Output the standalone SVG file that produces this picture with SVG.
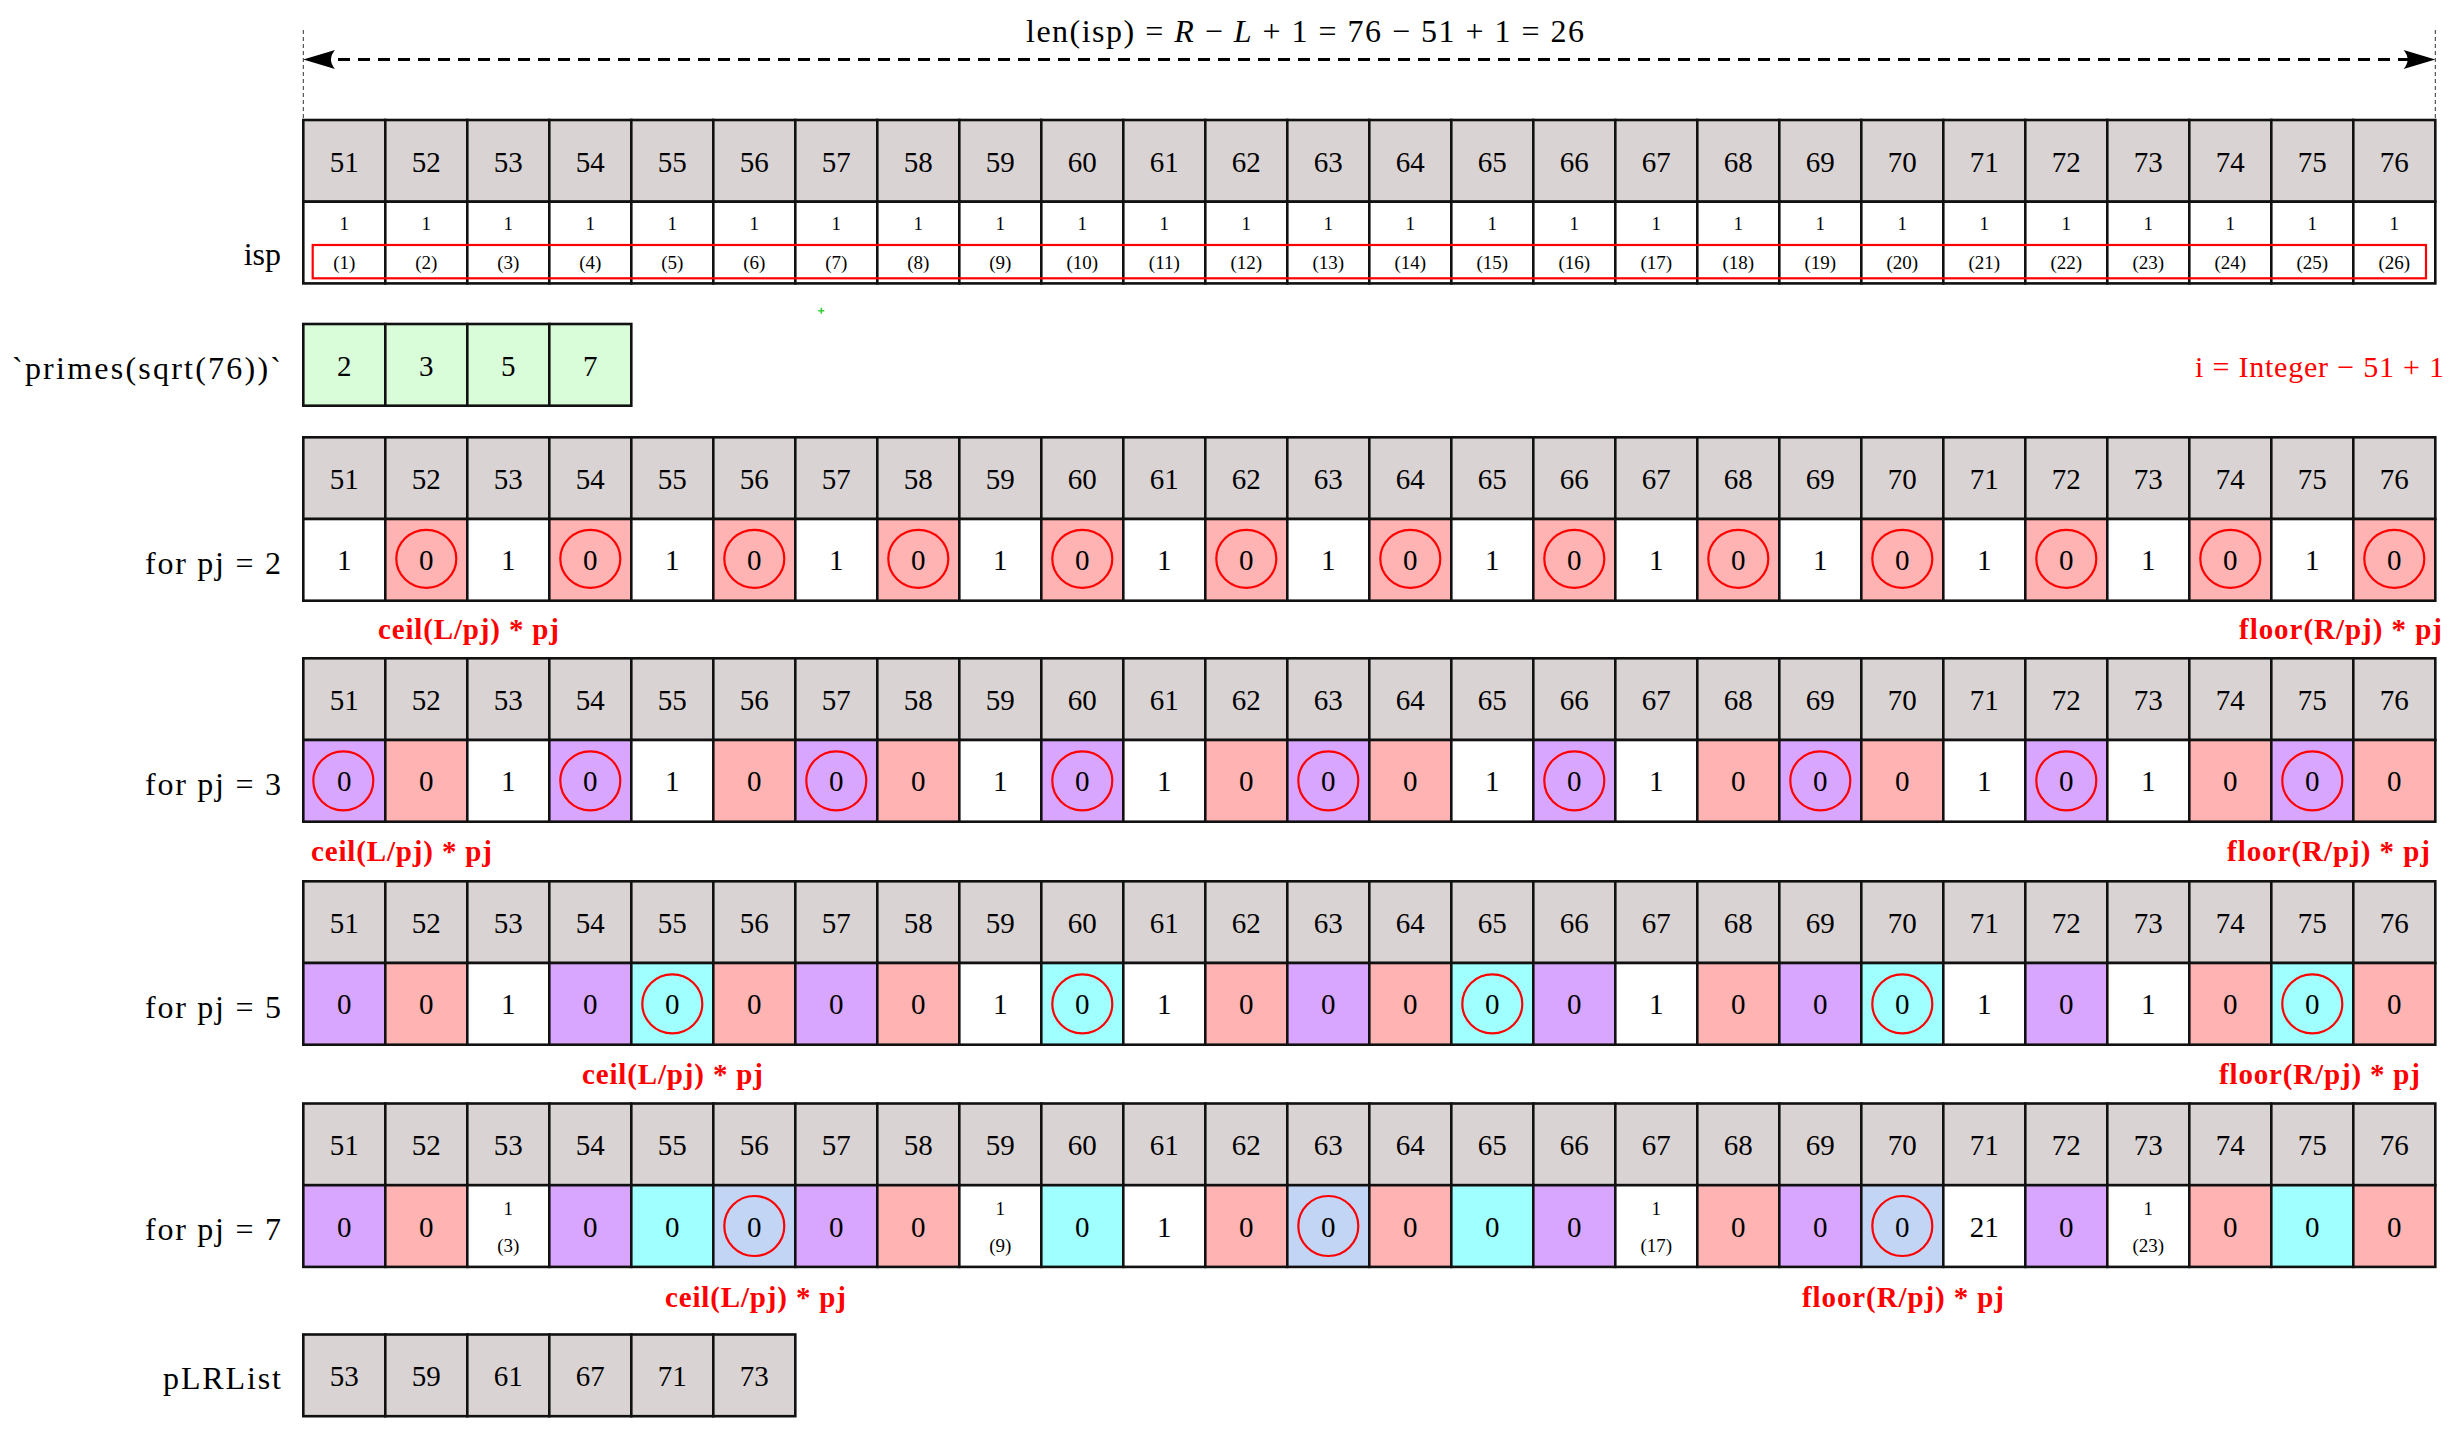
<svg xmlns="http://www.w3.org/2000/svg" width="2448" height="1431" viewBox="0 0 2448 1431">
<style>
.t rect{stroke:#111;stroke-width:2.6}
.hd{fill:#d9d3d3}.w{fill:#fff}.pk{fill:#ffb3b3}.pu{fill:#d9a6ff}.cy{fill:#a0ffff}.lb{fill:#c2d5f5}.gr{fill:#d9fcd9}
text{font-family:"Liberation Serif","Times New Roman",serif;fill:#000}
.n{font-size:29px;text-anchor:middle}
.s{font-size:19px;text-anchor:middle}
.ring{fill:none;stroke:#f00;stroke-width:2.2}
.lbl{font-size:32px;text-anchor:end}
.rb{font-size:29px;font-weight:bold;fill:#f00}
.rt{font-size:30px;fill:#f00}
</style>
<rect width="2448" height="1431" fill="#fff"/>

<g id="connectors">
<line x1="303.3" y1="30" x2="303.3" y2="120" stroke="#333" stroke-width="1" stroke-dasharray="4 3"/>
<line x1="2435.3" y1="30" x2="2435.3" y2="120" stroke="#333" stroke-width="1" stroke-dasharray="4 3"/>
<line x1="318" y1="59.5" x2="2420" y2="59.5" stroke="#000" stroke-width="3" stroke-dasharray="12 8"/>
<path d="M303.3,59.5 L335,50 Q327,59.5 335,69 Z" fill="#000"/>
<path d="M2435.3,59.5 L2403.6,50 Q2411.6,59.5 2403.6,69 Z" fill="#000"/>
</g>

<g id="title">
<text x="1305" y="42" text-anchor="middle" font-size="32" textLength="558" lengthAdjust="spacing">len(isp) = <tspan font-style="italic">R</tspan> − <tspan font-style="italic">L</tspan> + 1 = 76 − 51 + 1 = 26</text>
</g>

<g id="isp">
<text class="lbl" x="281" y="265">isp</text>
<g class="t" transform="translate(303.3,120)">
<rect x="0" y="0" width="82" height="81.7" class="hd"/><rect x="82" y="0" width="82" height="81.7" class="hd"/><rect x="164" y="0" width="82" height="81.7" class="hd"/><rect x="246" y="0" width="82" height="81.7" class="hd"/><rect x="328" y="0" width="82" height="81.7" class="hd"/><rect x="410" y="0" width="82" height="81.7" class="hd"/><rect x="492" y="0" width="82" height="81.7" class="hd"/><rect x="574" y="0" width="82" height="81.7" class="hd"/><rect x="656" y="0" width="82" height="81.7" class="hd"/><rect x="738" y="0" width="82" height="81.7" class="hd"/><rect x="820" y="0" width="82" height="81.7" class="hd"/><rect x="902" y="0" width="82" height="81.7" class="hd"/><rect x="984" y="0" width="82" height="81.7" class="hd"/><rect x="1066" y="0" width="82" height="81.7" class="hd"/><rect x="1148" y="0" width="82" height="81.7" class="hd"/><rect x="1230" y="0" width="82" height="81.7" class="hd"/><rect x="1312" y="0" width="82" height="81.7" class="hd"/><rect x="1394" y="0" width="82" height="81.7" class="hd"/><rect x="1476" y="0" width="82" height="81.7" class="hd"/><rect x="1558" y="0" width="82" height="81.7" class="hd"/><rect x="1640" y="0" width="82" height="81.7" class="hd"/><rect x="1722" y="0" width="82" height="81.7" class="hd"/><rect x="1804" y="0" width="82" height="81.7" class="hd"/><rect x="1886" y="0" width="82" height="81.7" class="hd"/><rect x="1968" y="0" width="82" height="81.7" class="hd"/><rect x="2050" y="0" width="82" height="81.7" class="hd"/>
<rect x="0" y="81.7" width="82" height="81.7" class="w"/><rect x="82" y="81.7" width="82" height="81.7" class="w"/><rect x="164" y="81.7" width="82" height="81.7" class="w"/><rect x="246" y="81.7" width="82" height="81.7" class="w"/><rect x="328" y="81.7" width="82" height="81.7" class="w"/><rect x="410" y="81.7" width="82" height="81.7" class="w"/><rect x="492" y="81.7" width="82" height="81.7" class="w"/><rect x="574" y="81.7" width="82" height="81.7" class="w"/><rect x="656" y="81.7" width="82" height="81.7" class="w"/><rect x="738" y="81.7" width="82" height="81.7" class="w"/><rect x="820" y="81.7" width="82" height="81.7" class="w"/><rect x="902" y="81.7" width="82" height="81.7" class="w"/><rect x="984" y="81.7" width="82" height="81.7" class="w"/><rect x="1066" y="81.7" width="82" height="81.7" class="w"/><rect x="1148" y="81.7" width="82" height="81.7" class="w"/><rect x="1230" y="81.7" width="82" height="81.7" class="w"/><rect x="1312" y="81.7" width="82" height="81.7" class="w"/><rect x="1394" y="81.7" width="82" height="81.7" class="w"/><rect x="1476" y="81.7" width="82" height="81.7" class="w"/><rect x="1558" y="81.7" width="82" height="81.7" class="w"/><rect x="1640" y="81.7" width="82" height="81.7" class="w"/><rect x="1722" y="81.7" width="82" height="81.7" class="w"/><rect x="1804" y="81.7" width="82" height="81.7" class="w"/><rect x="1886" y="81.7" width="82" height="81.7" class="w"/><rect x="1968" y="81.7" width="82" height="81.7" class="w"/><rect x="2050" y="81.7" width="82" height="81.7" class="w"/>
<text class="n" x="41" y="51.5">51</text><text class="n" x="123" y="51.5">52</text><text class="n" x="205" y="51.5">53</text><text class="n" x="287" y="51.5">54</text><text class="n" x="369" y="51.5">55</text><text class="n" x="451" y="51.5">56</text><text class="n" x="533" y="51.5">57</text><text class="n" x="615" y="51.5">58</text><text class="n" x="697" y="51.5">59</text><text class="n" x="779" y="51.5">60</text><text class="n" x="861" y="51.5">61</text><text class="n" x="943" y="51.5">62</text><text class="n" x="1025" y="51.5">63</text><text class="n" x="1107" y="51.5">64</text><text class="n" x="1189" y="51.5">65</text><text class="n" x="1271" y="51.5">66</text><text class="n" x="1353" y="51.5">67</text><text class="n" x="1435" y="51.5">68</text><text class="n" x="1517" y="51.5">69</text><text class="n" x="1599" y="51.5">70</text><text class="n" x="1681" y="51.5">71</text><text class="n" x="1763" y="51.5">72</text><text class="n" x="1845" y="51.5">73</text><text class="n" x="1927" y="51.5">74</text><text class="n" x="2009" y="51.5">75</text><text class="n" x="2091" y="51.5">76</text>
<text class="s" x="41" y="110">1</text><text class="s" x="123" y="110">1</text><text class="s" x="205" y="110">1</text><text class="s" x="287" y="110">1</text><text class="s" x="369" y="110">1</text><text class="s" x="451" y="110">1</text><text class="s" x="533" y="110">1</text><text class="s" x="615" y="110">1</text><text class="s" x="697" y="110">1</text><text class="s" x="779" y="110">1</text><text class="s" x="861" y="110">1</text><text class="s" x="943" y="110">1</text><text class="s" x="1025" y="110">1</text><text class="s" x="1107" y="110">1</text><text class="s" x="1189" y="110">1</text><text class="s" x="1271" y="110">1</text><text class="s" x="1353" y="110">1</text><text class="s" x="1435" y="110">1</text><text class="s" x="1517" y="110">1</text><text class="s" x="1599" y="110">1</text><text class="s" x="1681" y="110">1</text><text class="s" x="1763" y="110">1</text><text class="s" x="1845" y="110">1</text><text class="s" x="1927" y="110">1</text><text class="s" x="2009" y="110">1</text><text class="s" x="2091" y="110">1</text>
<text class="s" x="41" y="149">(1)</text><text class="s" x="123" y="149">(2)</text><text class="s" x="205" y="149">(3)</text><text class="s" x="287" y="149">(4)</text><text class="s" x="369" y="149">(5)</text><text class="s" x="451" y="149">(6)</text><text class="s" x="533" y="149">(7)</text><text class="s" x="615" y="149">(8)</text><text class="s" x="697" y="149">(9)</text><text class="s" x="779" y="149">(10)</text><text class="s" x="861" y="149">(11)</text><text class="s" x="943" y="149">(12)</text><text class="s" x="1025" y="149">(13)</text><text class="s" x="1107" y="149">(14)</text><text class="s" x="1189" y="149">(15)</text><text class="s" x="1271" y="149">(16)</text><text class="s" x="1353" y="149">(17)</text><text class="s" x="1435" y="149">(18)</text><text class="s" x="1517" y="149">(19)</text><text class="s" x="1599" y="149">(20)</text><text class="s" x="1681" y="149">(21)</text><text class="s" x="1763" y="149">(22)</text><text class="s" x="1845" y="149">(23)</text><text class="s" x="1927" y="149">(24)</text><text class="s" x="2009" y="149">(25)</text><text class="s" x="2091" y="149">(26)</text>
<rect x="9.4" y="125" width="2113.3" height="33.3" fill="none" style="stroke:#f00;stroke-width:2.2"/>
</g>
</g>

<g id="index-note">
<text class="rt" x="2195" y="377" textLength="249" lengthAdjust="spacing">i = Integer − 51 + 1</text>
</g>

<g id="dot">
<path d="M818.3,310.7 H824.3 M821.3,307.7 V313.7" stroke="#33cc33" stroke-width="1.5"/>
</g>

<g id="primes">
<text class="lbl" x="281" y="379" textLength="269" lengthAdjust="spacing">`primes(sqrt(76))`</text>
<g class="t" transform="translate(303.3,324)">
<rect x="0" y="0" width="82" height="81.7" class="gr"/><rect x="82" y="0" width="82" height="81.7" class="gr"/><rect x="164" y="0" width="82" height="81.7" class="gr"/><rect x="246" y="0" width="82" height="81.7" class="gr"/>
<text class="n" x="41" y="51.5">2</text><text class="n" x="123" y="51.5">3</text><text class="n" x="205" y="51.5">5</text><text class="n" x="287" y="51.5">7</text>
</g>
</g>

<g id="pj2">
<text class="lbl" x="281" y="574" textLength="136" lengthAdjust="spacing">for pj = 2</text>
<g class="t" transform="translate(303.3,437.3)">
<rect x="0" y="0" width="82" height="81.7" class="hd"/><rect x="82" y="0" width="82" height="81.7" class="hd"/><rect x="164" y="0" width="82" height="81.7" class="hd"/><rect x="246" y="0" width="82" height="81.7" class="hd"/><rect x="328" y="0" width="82" height="81.7" class="hd"/><rect x="410" y="0" width="82" height="81.7" class="hd"/><rect x="492" y="0" width="82" height="81.7" class="hd"/><rect x="574" y="0" width="82" height="81.7" class="hd"/><rect x="656" y="0" width="82" height="81.7" class="hd"/><rect x="738" y="0" width="82" height="81.7" class="hd"/><rect x="820" y="0" width="82" height="81.7" class="hd"/><rect x="902" y="0" width="82" height="81.7" class="hd"/><rect x="984" y="0" width="82" height="81.7" class="hd"/><rect x="1066" y="0" width="82" height="81.7" class="hd"/><rect x="1148" y="0" width="82" height="81.7" class="hd"/><rect x="1230" y="0" width="82" height="81.7" class="hd"/><rect x="1312" y="0" width="82" height="81.7" class="hd"/><rect x="1394" y="0" width="82" height="81.7" class="hd"/><rect x="1476" y="0" width="82" height="81.7" class="hd"/><rect x="1558" y="0" width="82" height="81.7" class="hd"/><rect x="1640" y="0" width="82" height="81.7" class="hd"/><rect x="1722" y="0" width="82" height="81.7" class="hd"/><rect x="1804" y="0" width="82" height="81.7" class="hd"/><rect x="1886" y="0" width="82" height="81.7" class="hd"/><rect x="1968" y="0" width="82" height="81.7" class="hd"/><rect x="2050" y="0" width="82" height="81.7" class="hd"/>
<rect x="0" y="81.7" width="82" height="81.7" class="w"/><rect x="82" y="81.7" width="82" height="81.7" class="pk"/><rect x="164" y="81.7" width="82" height="81.7" class="w"/><rect x="246" y="81.7" width="82" height="81.7" class="pk"/><rect x="328" y="81.7" width="82" height="81.7" class="w"/><rect x="410" y="81.7" width="82" height="81.7" class="pk"/><rect x="492" y="81.7" width="82" height="81.7" class="w"/><rect x="574" y="81.7" width="82" height="81.7" class="pk"/><rect x="656" y="81.7" width="82" height="81.7" class="w"/><rect x="738" y="81.7" width="82" height="81.7" class="pk"/><rect x="820" y="81.7" width="82" height="81.7" class="w"/><rect x="902" y="81.7" width="82" height="81.7" class="pk"/><rect x="984" y="81.7" width="82" height="81.7" class="w"/><rect x="1066" y="81.7" width="82" height="81.7" class="pk"/><rect x="1148" y="81.7" width="82" height="81.7" class="w"/><rect x="1230" y="81.7" width="82" height="81.7" class="pk"/><rect x="1312" y="81.7" width="82" height="81.7" class="w"/><rect x="1394" y="81.7" width="82" height="81.7" class="pk"/><rect x="1476" y="81.7" width="82" height="81.7" class="w"/><rect x="1558" y="81.7" width="82" height="81.7" class="pk"/><rect x="1640" y="81.7" width="82" height="81.7" class="w"/><rect x="1722" y="81.7" width="82" height="81.7" class="pk"/><rect x="1804" y="81.7" width="82" height="81.7" class="w"/><rect x="1886" y="81.7" width="82" height="81.7" class="pk"/><rect x="1968" y="81.7" width="82" height="81.7" class="w"/><rect x="2050" y="81.7" width="82" height="81.7" class="pk"/>
<text class="n" x="41" y="51.5">51</text><text class="n" x="123" y="51.5">52</text><text class="n" x="205" y="51.5">53</text><text class="n" x="287" y="51.5">54</text><text class="n" x="369" y="51.5">55</text><text class="n" x="451" y="51.5">56</text><text class="n" x="533" y="51.5">57</text><text class="n" x="615" y="51.5">58</text><text class="n" x="697" y="51.5">59</text><text class="n" x="779" y="51.5">60</text><text class="n" x="861" y="51.5">61</text><text class="n" x="943" y="51.5">62</text><text class="n" x="1025" y="51.5">63</text><text class="n" x="1107" y="51.5">64</text><text class="n" x="1189" y="51.5">65</text><text class="n" x="1271" y="51.5">66</text><text class="n" x="1353" y="51.5">67</text><text class="n" x="1435" y="51.5">68</text><text class="n" x="1517" y="51.5">69</text><text class="n" x="1599" y="51.5">70</text><text class="n" x="1681" y="51.5">71</text><text class="n" x="1763" y="51.5">72</text><text class="n" x="1845" y="51.5">73</text><text class="n" x="1927" y="51.5">74</text><text class="n" x="2009" y="51.5">75</text><text class="n" x="2091" y="51.5">76</text>
<text class="n" x="41" y="133.2">1</text><text class="n" x="123" y="133.2">0</text><text class="n" x="205" y="133.2">1</text><text class="n" x="287" y="133.2">0</text><text class="n" x="369" y="133.2">1</text><text class="n" x="451" y="133.2">0</text><text class="n" x="533" y="133.2">1</text><text class="n" x="615" y="133.2">0</text><text class="n" x="697" y="133.2">1</text><text class="n" x="779" y="133.2">0</text><text class="n" x="861" y="133.2">1</text><text class="n" x="943" y="133.2">0</text><text class="n" x="1025" y="133.2">1</text><text class="n" x="1107" y="133.2">0</text><text class="n" x="1189" y="133.2">1</text><text class="n" x="1271" y="133.2">0</text><text class="n" x="1353" y="133.2">1</text><text class="n" x="1435" y="133.2">0</text><text class="n" x="1517" y="133.2">1</text><text class="n" x="1599" y="133.2">0</text><text class="n" x="1681" y="133.2">1</text><text class="n" x="1763" y="133.2">0</text><text class="n" x="1845" y="133.2">1</text><text class="n" x="1927" y="133.2">0</text><text class="n" x="2009" y="133.2">1</text><text class="n" x="2091" y="133.2">0</text>
<ellipse class="ring" cx="123" cy="121.5" rx="30" ry="29"/><ellipse class="ring" cx="287" cy="121.5" rx="30" ry="29"/><ellipse class="ring" cx="451" cy="121.5" rx="30" ry="29"/><ellipse class="ring" cx="615" cy="121.5" rx="30" ry="29"/><ellipse class="ring" cx="779" cy="121.5" rx="30" ry="29"/><ellipse class="ring" cx="943" cy="121.5" rx="30" ry="29"/><ellipse class="ring" cx="1107" cy="121.5" rx="30" ry="29"/><ellipse class="ring" cx="1271" cy="121.5" rx="30" ry="29"/><ellipse class="ring" cx="1435" cy="121.5" rx="30" ry="29"/><ellipse class="ring" cx="1599" cy="121.5" rx="30" ry="29"/><ellipse class="ring" cx="1763" cy="121.5" rx="30" ry="29"/><ellipse class="ring" cx="1927" cy="121.5" rx="30" ry="29"/><ellipse class="ring" cx="2091" cy="121.5" rx="30" ry="29"/>
</g>
<text class="rb" x="378" y="639" textLength="181" lengthAdjust="spacing">ceil(L/pj) * pj</text>
<text class="rb" x="2239" y="639" textLength="203" lengthAdjust="spacing">floor(R/pj) * pj</text>
</g>

<g id="pj3">
<text class="lbl" x="281" y="795" textLength="136" lengthAdjust="spacing">for pj = 3</text>
<g class="t" transform="translate(303.3,658.3)">
<rect x="0" y="0" width="82" height="81.7" class="hd"/><rect x="82" y="0" width="82" height="81.7" class="hd"/><rect x="164" y="0" width="82" height="81.7" class="hd"/><rect x="246" y="0" width="82" height="81.7" class="hd"/><rect x="328" y="0" width="82" height="81.7" class="hd"/><rect x="410" y="0" width="82" height="81.7" class="hd"/><rect x="492" y="0" width="82" height="81.7" class="hd"/><rect x="574" y="0" width="82" height="81.7" class="hd"/><rect x="656" y="0" width="82" height="81.7" class="hd"/><rect x="738" y="0" width="82" height="81.7" class="hd"/><rect x="820" y="0" width="82" height="81.7" class="hd"/><rect x="902" y="0" width="82" height="81.7" class="hd"/><rect x="984" y="0" width="82" height="81.7" class="hd"/><rect x="1066" y="0" width="82" height="81.7" class="hd"/><rect x="1148" y="0" width="82" height="81.7" class="hd"/><rect x="1230" y="0" width="82" height="81.7" class="hd"/><rect x="1312" y="0" width="82" height="81.7" class="hd"/><rect x="1394" y="0" width="82" height="81.7" class="hd"/><rect x="1476" y="0" width="82" height="81.7" class="hd"/><rect x="1558" y="0" width="82" height="81.7" class="hd"/><rect x="1640" y="0" width="82" height="81.7" class="hd"/><rect x="1722" y="0" width="82" height="81.7" class="hd"/><rect x="1804" y="0" width="82" height="81.7" class="hd"/><rect x="1886" y="0" width="82" height="81.7" class="hd"/><rect x="1968" y="0" width="82" height="81.7" class="hd"/><rect x="2050" y="0" width="82" height="81.7" class="hd"/>
<rect x="0" y="81.7" width="82" height="81.7" class="pu"/><rect x="82" y="81.7" width="82" height="81.7" class="pk"/><rect x="164" y="81.7" width="82" height="81.7" class="w"/><rect x="246" y="81.7" width="82" height="81.7" class="pu"/><rect x="328" y="81.7" width="82" height="81.7" class="w"/><rect x="410" y="81.7" width="82" height="81.7" class="pk"/><rect x="492" y="81.7" width="82" height="81.7" class="pu"/><rect x="574" y="81.7" width="82" height="81.7" class="pk"/><rect x="656" y="81.7" width="82" height="81.7" class="w"/><rect x="738" y="81.7" width="82" height="81.7" class="pu"/><rect x="820" y="81.7" width="82" height="81.7" class="w"/><rect x="902" y="81.7" width="82" height="81.7" class="pk"/><rect x="984" y="81.7" width="82" height="81.7" class="pu"/><rect x="1066" y="81.7" width="82" height="81.7" class="pk"/><rect x="1148" y="81.7" width="82" height="81.7" class="w"/><rect x="1230" y="81.7" width="82" height="81.7" class="pu"/><rect x="1312" y="81.7" width="82" height="81.7" class="w"/><rect x="1394" y="81.7" width="82" height="81.7" class="pk"/><rect x="1476" y="81.7" width="82" height="81.7" class="pu"/><rect x="1558" y="81.7" width="82" height="81.7" class="pk"/><rect x="1640" y="81.7" width="82" height="81.7" class="w"/><rect x="1722" y="81.7" width="82" height="81.7" class="pu"/><rect x="1804" y="81.7" width="82" height="81.7" class="w"/><rect x="1886" y="81.7" width="82" height="81.7" class="pk"/><rect x="1968" y="81.7" width="82" height="81.7" class="pu"/><rect x="2050" y="81.7" width="82" height="81.7" class="pk"/>
<text class="n" x="41" y="51.5">51</text><text class="n" x="123" y="51.5">52</text><text class="n" x="205" y="51.5">53</text><text class="n" x="287" y="51.5">54</text><text class="n" x="369" y="51.5">55</text><text class="n" x="451" y="51.5">56</text><text class="n" x="533" y="51.5">57</text><text class="n" x="615" y="51.5">58</text><text class="n" x="697" y="51.5">59</text><text class="n" x="779" y="51.5">60</text><text class="n" x="861" y="51.5">61</text><text class="n" x="943" y="51.5">62</text><text class="n" x="1025" y="51.5">63</text><text class="n" x="1107" y="51.5">64</text><text class="n" x="1189" y="51.5">65</text><text class="n" x="1271" y="51.5">66</text><text class="n" x="1353" y="51.5">67</text><text class="n" x="1435" y="51.5">68</text><text class="n" x="1517" y="51.5">69</text><text class="n" x="1599" y="51.5">70</text><text class="n" x="1681" y="51.5">71</text><text class="n" x="1763" y="51.5">72</text><text class="n" x="1845" y="51.5">73</text><text class="n" x="1927" y="51.5">74</text><text class="n" x="2009" y="51.5">75</text><text class="n" x="2091" y="51.5">76</text>
<text class="n" x="41" y="133.2">0</text><text class="n" x="123" y="133.2">0</text><text class="n" x="205" y="133.2">1</text><text class="n" x="287" y="133.2">0</text><text class="n" x="369" y="133.2">1</text><text class="n" x="451" y="133.2">0</text><text class="n" x="533" y="133.2">0</text><text class="n" x="615" y="133.2">0</text><text class="n" x="697" y="133.2">1</text><text class="n" x="779" y="133.2">0</text><text class="n" x="861" y="133.2">1</text><text class="n" x="943" y="133.2">0</text><text class="n" x="1025" y="133.2">0</text><text class="n" x="1107" y="133.2">0</text><text class="n" x="1189" y="133.2">1</text><text class="n" x="1271" y="133.2">0</text><text class="n" x="1353" y="133.2">1</text><text class="n" x="1435" y="133.2">0</text><text class="n" x="1517" y="133.2">0</text><text class="n" x="1599" y="133.2">0</text><text class="n" x="1681" y="133.2">1</text><text class="n" x="1763" y="133.2">0</text><text class="n" x="1845" y="133.2">1</text><text class="n" x="1927" y="133.2">0</text><text class="n" x="2009" y="133.2">0</text><text class="n" x="2091" y="133.2">0</text>
<ellipse class="ring" cx="40" cy="122.5" rx="30" ry="29.5"/><ellipse class="ring" cx="287" cy="122.5" rx="30" ry="29.5"/><ellipse class="ring" cx="533" cy="122.5" rx="30" ry="29.5"/><ellipse class="ring" cx="779" cy="122.5" rx="30" ry="29.5"/><ellipse class="ring" cx="1025" cy="122.5" rx="30" ry="29.5"/><ellipse class="ring" cx="1271" cy="122.5" rx="30" ry="29.5"/><ellipse class="ring" cx="1517" cy="122.5" rx="30" ry="29.5"/><ellipse class="ring" cx="1763" cy="122.5" rx="30" ry="29.5"/><ellipse class="ring" cx="2009" cy="122.5" rx="30" ry="29.5"/>
</g>
<text class="rb" x="311" y="861" textLength="181" lengthAdjust="spacing">ceil(L/pj) * pj</text>
<text class="rb" x="2227" y="861" textLength="203" lengthAdjust="spacing">floor(R/pj) * pj</text>
</g>

<g id="pj5">
<text class="lbl" x="281" y="1018" textLength="136" lengthAdjust="spacing">for pj = 5</text>
<g class="t" transform="translate(303.3,881.3)">
<rect x="0" y="0" width="82" height="81.7" class="hd"/><rect x="82" y="0" width="82" height="81.7" class="hd"/><rect x="164" y="0" width="82" height="81.7" class="hd"/><rect x="246" y="0" width="82" height="81.7" class="hd"/><rect x="328" y="0" width="82" height="81.7" class="hd"/><rect x="410" y="0" width="82" height="81.7" class="hd"/><rect x="492" y="0" width="82" height="81.7" class="hd"/><rect x="574" y="0" width="82" height="81.7" class="hd"/><rect x="656" y="0" width="82" height="81.7" class="hd"/><rect x="738" y="0" width="82" height="81.7" class="hd"/><rect x="820" y="0" width="82" height="81.7" class="hd"/><rect x="902" y="0" width="82" height="81.7" class="hd"/><rect x="984" y="0" width="82" height="81.7" class="hd"/><rect x="1066" y="0" width="82" height="81.7" class="hd"/><rect x="1148" y="0" width="82" height="81.7" class="hd"/><rect x="1230" y="0" width="82" height="81.7" class="hd"/><rect x="1312" y="0" width="82" height="81.7" class="hd"/><rect x="1394" y="0" width="82" height="81.7" class="hd"/><rect x="1476" y="0" width="82" height="81.7" class="hd"/><rect x="1558" y="0" width="82" height="81.7" class="hd"/><rect x="1640" y="0" width="82" height="81.7" class="hd"/><rect x="1722" y="0" width="82" height="81.7" class="hd"/><rect x="1804" y="0" width="82" height="81.7" class="hd"/><rect x="1886" y="0" width="82" height="81.7" class="hd"/><rect x="1968" y="0" width="82" height="81.7" class="hd"/><rect x="2050" y="0" width="82" height="81.7" class="hd"/>
<rect x="0" y="81.7" width="82" height="81.7" class="pu"/><rect x="82" y="81.7" width="82" height="81.7" class="pk"/><rect x="164" y="81.7" width="82" height="81.7" class="w"/><rect x="246" y="81.7" width="82" height="81.7" class="pu"/><rect x="328" y="81.7" width="82" height="81.7" class="cy"/><rect x="410" y="81.7" width="82" height="81.7" class="pk"/><rect x="492" y="81.7" width="82" height="81.7" class="pu"/><rect x="574" y="81.7" width="82" height="81.7" class="pk"/><rect x="656" y="81.7" width="82" height="81.7" class="w"/><rect x="738" y="81.7" width="82" height="81.7" class="cy"/><rect x="820" y="81.7" width="82" height="81.7" class="w"/><rect x="902" y="81.7" width="82" height="81.7" class="pk"/><rect x="984" y="81.7" width="82" height="81.7" class="pu"/><rect x="1066" y="81.7" width="82" height="81.7" class="pk"/><rect x="1148" y="81.7" width="82" height="81.7" class="cy"/><rect x="1230" y="81.7" width="82" height="81.7" class="pu"/><rect x="1312" y="81.7" width="82" height="81.7" class="w"/><rect x="1394" y="81.7" width="82" height="81.7" class="pk"/><rect x="1476" y="81.7" width="82" height="81.7" class="pu"/><rect x="1558" y="81.7" width="82" height="81.7" class="cy"/><rect x="1640" y="81.7" width="82" height="81.7" class="w"/><rect x="1722" y="81.7" width="82" height="81.7" class="pu"/><rect x="1804" y="81.7" width="82" height="81.7" class="w"/><rect x="1886" y="81.7" width="82" height="81.7" class="pk"/><rect x="1968" y="81.7" width="82" height="81.7" class="cy"/><rect x="2050" y="81.7" width="82" height="81.7" class="pk"/>
<text class="n" x="41" y="51.5">51</text><text class="n" x="123" y="51.5">52</text><text class="n" x="205" y="51.5">53</text><text class="n" x="287" y="51.5">54</text><text class="n" x="369" y="51.5">55</text><text class="n" x="451" y="51.5">56</text><text class="n" x="533" y="51.5">57</text><text class="n" x="615" y="51.5">58</text><text class="n" x="697" y="51.5">59</text><text class="n" x="779" y="51.5">60</text><text class="n" x="861" y="51.5">61</text><text class="n" x="943" y="51.5">62</text><text class="n" x="1025" y="51.5">63</text><text class="n" x="1107" y="51.5">64</text><text class="n" x="1189" y="51.5">65</text><text class="n" x="1271" y="51.5">66</text><text class="n" x="1353" y="51.5">67</text><text class="n" x="1435" y="51.5">68</text><text class="n" x="1517" y="51.5">69</text><text class="n" x="1599" y="51.5">70</text><text class="n" x="1681" y="51.5">71</text><text class="n" x="1763" y="51.5">72</text><text class="n" x="1845" y="51.5">73</text><text class="n" x="1927" y="51.5">74</text><text class="n" x="2009" y="51.5">75</text><text class="n" x="2091" y="51.5">76</text>
<text class="n" x="41" y="133.2">0</text><text class="n" x="123" y="133.2">0</text><text class="n" x="205" y="133.2">1</text><text class="n" x="287" y="133.2">0</text><text class="n" x="369" y="133.2">0</text><text class="n" x="451" y="133.2">0</text><text class="n" x="533" y="133.2">0</text><text class="n" x="615" y="133.2">0</text><text class="n" x="697" y="133.2">1</text><text class="n" x="779" y="133.2">0</text><text class="n" x="861" y="133.2">1</text><text class="n" x="943" y="133.2">0</text><text class="n" x="1025" y="133.2">0</text><text class="n" x="1107" y="133.2">0</text><text class="n" x="1189" y="133.2">0</text><text class="n" x="1271" y="133.2">0</text><text class="n" x="1353" y="133.2">1</text><text class="n" x="1435" y="133.2">0</text><text class="n" x="1517" y="133.2">0</text><text class="n" x="1599" y="133.2">0</text><text class="n" x="1681" y="133.2">1</text><text class="n" x="1763" y="133.2">0</text><text class="n" x="1845" y="133.2">1</text><text class="n" x="1927" y="133.2">0</text><text class="n" x="2009" y="133.2">0</text><text class="n" x="2091" y="133.2">0</text>
<ellipse class="ring" cx="369" cy="122.5" rx="30" ry="29.5"/><ellipse class="ring" cx="779" cy="122.5" rx="30" ry="29.5"/><ellipse class="ring" cx="1189" cy="122.5" rx="30" ry="29.5"/><ellipse class="ring" cx="1599" cy="122.5" rx="30" ry="29.5"/><ellipse class="ring" cx="2009" cy="122.5" rx="30" ry="29.5"/>
</g>
<text class="rb" x="582" y="1084" textLength="181" lengthAdjust="spacing">ceil(L/pj) * pj</text>
<text class="rb" x="2219" y="1084" textLength="201" lengthAdjust="spacing">floor(R/pj) * pj</text>
</g>

<g id="pj7">
<text class="lbl" x="281" y="1240" textLength="136" lengthAdjust="spacing">for pj = 7</text>
<g class="t" transform="translate(303.3,1103.5)">
<rect x="0" y="0" width="82" height="81.7" class="hd"/><rect x="82" y="0" width="82" height="81.7" class="hd"/><rect x="164" y="0" width="82" height="81.7" class="hd"/><rect x="246" y="0" width="82" height="81.7" class="hd"/><rect x="328" y="0" width="82" height="81.7" class="hd"/><rect x="410" y="0" width="82" height="81.7" class="hd"/><rect x="492" y="0" width="82" height="81.7" class="hd"/><rect x="574" y="0" width="82" height="81.7" class="hd"/><rect x="656" y="0" width="82" height="81.7" class="hd"/><rect x="738" y="0" width="82" height="81.7" class="hd"/><rect x="820" y="0" width="82" height="81.7" class="hd"/><rect x="902" y="0" width="82" height="81.7" class="hd"/><rect x="984" y="0" width="82" height="81.7" class="hd"/><rect x="1066" y="0" width="82" height="81.7" class="hd"/><rect x="1148" y="0" width="82" height="81.7" class="hd"/><rect x="1230" y="0" width="82" height="81.7" class="hd"/><rect x="1312" y="0" width="82" height="81.7" class="hd"/><rect x="1394" y="0" width="82" height="81.7" class="hd"/><rect x="1476" y="0" width="82" height="81.7" class="hd"/><rect x="1558" y="0" width="82" height="81.7" class="hd"/><rect x="1640" y="0" width="82" height="81.7" class="hd"/><rect x="1722" y="0" width="82" height="81.7" class="hd"/><rect x="1804" y="0" width="82" height="81.7" class="hd"/><rect x="1886" y="0" width="82" height="81.7" class="hd"/><rect x="1968" y="0" width="82" height="81.7" class="hd"/><rect x="2050" y="0" width="82" height="81.7" class="hd"/>
<rect x="0" y="81.7" width="82" height="81.7" class="pu"/><rect x="82" y="81.7" width="82" height="81.7" class="pk"/><rect x="164" y="81.7" width="82" height="81.7" class="w"/><rect x="246" y="81.7" width="82" height="81.7" class="pu"/><rect x="328" y="81.7" width="82" height="81.7" class="cy"/><rect x="410" y="81.7" width="82" height="81.7" class="lb"/><rect x="492" y="81.7" width="82" height="81.7" class="pu"/><rect x="574" y="81.7" width="82" height="81.7" class="pk"/><rect x="656" y="81.7" width="82" height="81.7" class="w"/><rect x="738" y="81.7" width="82" height="81.7" class="cy"/><rect x="820" y="81.7" width="82" height="81.7" class="w"/><rect x="902" y="81.7" width="82" height="81.7" class="pk"/><rect x="984" y="81.7" width="82" height="81.7" class="lb"/><rect x="1066" y="81.7" width="82" height="81.7" class="pk"/><rect x="1148" y="81.7" width="82" height="81.7" class="cy"/><rect x="1230" y="81.7" width="82" height="81.7" class="pu"/><rect x="1312" y="81.7" width="82" height="81.7" class="w"/><rect x="1394" y="81.7" width="82" height="81.7" class="pk"/><rect x="1476" y="81.7" width="82" height="81.7" class="pu"/><rect x="1558" y="81.7" width="82" height="81.7" class="lb"/><rect x="1640" y="81.7" width="82" height="81.7" class="w"/><rect x="1722" y="81.7" width="82" height="81.7" class="pu"/><rect x="1804" y="81.7" width="82" height="81.7" class="w"/><rect x="1886" y="81.7" width="82" height="81.7" class="pk"/><rect x="1968" y="81.7" width="82" height="81.7" class="cy"/><rect x="2050" y="81.7" width="82" height="81.7" class="pk"/>
<text class="n" x="41" y="51.5">51</text><text class="n" x="123" y="51.5">52</text><text class="n" x="205" y="51.5">53</text><text class="n" x="287" y="51.5">54</text><text class="n" x="369" y="51.5">55</text><text class="n" x="451" y="51.5">56</text><text class="n" x="533" y="51.5">57</text><text class="n" x="615" y="51.5">58</text><text class="n" x="697" y="51.5">59</text><text class="n" x="779" y="51.5">60</text><text class="n" x="861" y="51.5">61</text><text class="n" x="943" y="51.5">62</text><text class="n" x="1025" y="51.5">63</text><text class="n" x="1107" y="51.5">64</text><text class="n" x="1189" y="51.5">65</text><text class="n" x="1271" y="51.5">66</text><text class="n" x="1353" y="51.5">67</text><text class="n" x="1435" y="51.5">68</text><text class="n" x="1517" y="51.5">69</text><text class="n" x="1599" y="51.5">70</text><text class="n" x="1681" y="51.5">71</text><text class="n" x="1763" y="51.5">72</text><text class="n" x="1845" y="51.5">73</text><text class="n" x="1927" y="51.5">74</text><text class="n" x="2009" y="51.5">75</text><text class="n" x="2091" y="51.5">76</text>
<text class="n" x="41" y="133.2">0</text><text class="n" x="123" y="133.2">0</text><text class="s" x="205" y="111">1</text><text class="s" x="205" y="148">(3)</text><text class="n" x="287" y="133.2">0</text><text class="n" x="369" y="133.2">0</text><text class="n" x="451" y="133.2">0</text><text class="n" x="533" y="133.2">0</text><text class="n" x="615" y="133.2">0</text><text class="s" x="697" y="111">1</text><text class="s" x="697" y="148">(9)</text><text class="n" x="779" y="133.2">0</text><text class="n" x="861" y="133.2">1</text><text class="n" x="943" y="133.2">0</text><text class="n" x="1025" y="133.2">0</text><text class="n" x="1107" y="133.2">0</text><text class="n" x="1189" y="133.2">0</text><text class="n" x="1271" y="133.2">0</text><text class="s" x="1353" y="111">1</text><text class="s" x="1353" y="148">(17)</text><text class="n" x="1435" y="133.2">0</text><text class="n" x="1517" y="133.2">0</text><text class="n" x="1599" y="133.2">0</text><text class="n" x="1681" y="133.2">21</text><text class="n" x="1763" y="133.2">0</text><text class="s" x="1845" y="111">1</text><text class="s" x="1845" y="148">(23)</text><text class="n" x="1927" y="133.2">0</text><text class="n" x="2009" y="133.2">0</text><text class="n" x="2091" y="133.2">0</text>
<ellipse class="ring" cx="451" cy="122.5" rx="30" ry="30"/><ellipse class="ring" cx="1025" cy="122.5" rx="30" ry="30"/><ellipse class="ring" cx="1599" cy="122.5" rx="30" ry="30"/>
</g>
<text class="rb" x="665" y="1307" textLength="181" lengthAdjust="spacing">ceil(L/pj) * pj</text>
<text class="rb" x="1802" y="1307" textLength="202" lengthAdjust="spacing">floor(R/pj) * pj</text>
</g>

<g id="plrlist">
<text class="lbl" x="281" y="1389" textLength="118" lengthAdjust="spacing">pLRList</text>
<g class="t" transform="translate(303.3,1334.5)">
<rect x="0" y="0" width="82" height="81.7" class="hd"/><rect x="82" y="0" width="82" height="81.7" class="hd"/><rect x="164" y="0" width="82" height="81.7" class="hd"/><rect x="246" y="0" width="82" height="81.7" class="hd"/><rect x="328" y="0" width="82" height="81.7" class="hd"/><rect x="410" y="0" width="82" height="81.7" class="hd"/>
<text class="n" x="41" y="51.5">53</text><text class="n" x="123" y="51.5">59</text><text class="n" x="205" y="51.5">61</text><text class="n" x="287" y="51.5">67</text><text class="n" x="369" y="51.5">71</text><text class="n" x="451" y="51.5">73</text>
</g>
</g>
</svg>
